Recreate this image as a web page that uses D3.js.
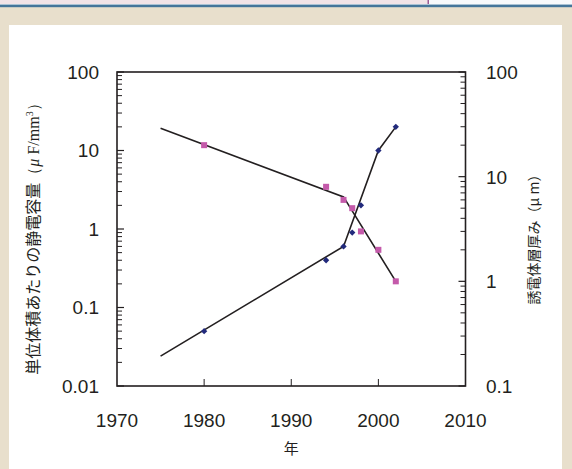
<!DOCTYPE html>
<html>
<head>
<meta charset="utf-8">
<script src="https://cdn.jsdelivr.net/npm/d3@7"></script>
<style>
  html, body { margin: 0; padding: 0; background: #e8dfcc; }
  svg { display: block; }
</style>
</head>
<body>
<svg id="chart" width="572" height="469"></svg>
<script>
// measured points
const capYears = [1980, 1994, 1996, 1997, 1998, 2000, 2002]
const capValues = [0.05, 0.4, 0.6, 0.9, 2, 10, 20]          // μF/mm3, left axis
const thickYears = [1980, 1994, 1996, 1997, 1998, 2000, 2002]
const thickValues = [20, 8, 6, 5, 3, 2, 1]                   // μm, right axis

// trend lines
const capTrendYears = [1975, 1996, 2000, 2002]
const capTrendValues = [0.024, 0.6, 10, 20]
const thickTrendYears = [1975, 1996, 2002]
const thickTrendValues = [29, 6.4, 1]

const xTicks = [1970, 1980, 1990, 2000, 2010]
const yLeftTicks = [0.01, 0.1, 1, 10, 100]
const yRightTicks = [0.1, 1, 10, 100]

const width = 572, height = 469
const plot = {left: 117, right: 465.5, top: 72, bottom: 386}

const svg = d3.select("#chart")

// page frame
svg.append("rect").attr("x", 0).attr("y", 0).attr("width", width).attr("height", height).attr("fill", "#e8dfcc")
svg.append("rect").attr("x", 0).attr("y", 0).attr("width", 428).attr("height", 4.5).attr("fill", "#f1e3e7")
svg.append("rect").attr("x", 428).attr("y", 0).attr("width", width - 428).attr("height", 4.5).attr("fill", "#f7f9fb")
svg.append("rect").attr("x", 427.5).attr("y", 0).attr("width", 1.5).attr("height", 4.5).attr("fill", "#9a5a94")
svg.append("rect").attr("x", 0).attr("y", 4).attr("width", width).attr("height", 1).attr("fill", "#a9c2d4")
svg.append("rect").attr("x", 0).attr("y", 5).attr("width", width).attr("height", 2.2).attr("fill", "#44759a")
svg.append("rect").attr("x", 9).attr("y", 25).attr("width", 553).attr("height", height - 25).attr("fill", "#ffffff")

const xScale = d3.scaleLinear().domain([1970, 2010]).range([plot.left, plot.right])
const yLeft = d3.scaleLog().domain([0.01, 100]).range([plot.bottom, plot.top])
const yRight = d3.scaleLog().domain([0.1, 100]).range([plot.bottom, plot.top])

const numFont = "'Liberation Sans', Arial, sans-serif"
const jpFont = "'Noto Sans CJK JP', sans-serif"
const ink = "#231f20"

function minorTicks(ticks) {
  const out = []
  ticks.slice(0, -1).forEach(t => { for (let k = 2; k <= 9; k++) out.push(t * k) })
  return out
}

// left axis ticks (pointing inward)
const gl = svg.append("g")
gl.selectAll(".maj").data(yLeftTicks).join("line")
  .attr("x1", plot.left).attr("x2", plot.left + 7)
  .attr("y1", d => yLeft(d)).attr("y2", d => yLeft(d))
  .attr("stroke", ink).attr("stroke-width", 1.2)
gl.selectAll(".min").data(minorTicks(yLeftTicks)).join("line")
  .attr("x1", plot.left).attr("x2", plot.left + 5)
  .attr("y1", d => yLeft(d)).attr("y2", d => yLeft(d))
  .attr("stroke", ink).attr("stroke-width", 1)
gl.selectAll("text").data(yLeftTicks).join("text")
  .attr("x", 99).attr("y", d => yLeft(d))
  .attr("dy", "0.36em").attr("text-anchor", "end")
  .attr("font-family", numFont).attr("font-size", 19).attr("fill", ink)
  .text(d => d3.format("~g")(d))

// right axis ticks
const gr = svg.append("g")
gr.selectAll(".maj").data(yRightTicks).join("line")
  .attr("x1", plot.right).attr("x2", plot.right - 7)
  .attr("y1", d => yRight(d)).attr("y2", d => yRight(d))
  .attr("stroke", ink).attr("stroke-width", 1.2)
gr.selectAll(".min").data(minorTicks(yRightTicks)).join("line")
  .attr("x1", plot.right).attr("x2", plot.right - 5)
  .attr("y1", d => yRight(d)).attr("y2", d => yRight(d))
  .attr("stroke", ink).attr("stroke-width", 1)
gr.selectAll("text").data(yRightTicks).join("text")
  .attr("x", 486).attr("y", d => yRight(d))
  .attr("dy", "0.36em").attr("text-anchor", "start")
  .attr("font-family", numFont).attr("font-size", 19).attr("fill", ink)
  .text(d => d3.format("~g")(d))

// bottom axis
const gb = svg.append("g")
gb.selectAll("line").data(xTicks.slice(1, -1)).join("line")
  .attr("x1", d => xScale(d)).attr("x2", d => xScale(d))
  .attr("y1", plot.bottom).attr("y2", plot.bottom - 7)
  .attr("stroke", ink).attr("stroke-width", 1)
gb.selectAll("text").data(xTicks).join("text")
  .attr("x", d => xScale(d)).attr("y", 427)
  .attr("text-anchor", "middle")
  .attr("font-family", numFont).attr("font-size", 19).attr("fill", ink)
  .text(d => d)

// frame
svg.append("rect")
  .attr("x", plot.left).attr("y", plot.top)
  .attr("width", plot.right - plot.left).attr("height", plot.bottom - plot.top)
  .attr("fill", "none").attr("stroke", ink).attr("stroke-width", 1.6)

// trend lines
const capLine = d3.line().x(d => xScale(d[0])).y(d => yLeft(d[1]))
const thickLine = d3.line().x(d => xScale(d[0])).y(d => yRight(d[1]))
svg.append("path").datum(d3.zip(thickTrendYears, thickTrendValues))
  .attr("d", thickLine).attr("fill", "none").attr("stroke", ink).attr("stroke-width", 1.6)
svg.append("path").datum(d3.zip(capTrendYears, capTrendValues))
  .attr("d", capLine).attr("fill", "none").attr("stroke", ink).attr("stroke-width", 1.6)

// markers
svg.append("g").selectAll("rect").data(d3.zip(thickYears, thickValues)).join("rect")
  .attr("x", d => xScale(d[0]) - 3).attr("y", d => yRight(d[1]) - 3)
  .attr("width", 6).attr("height", 6)
  .attr("fill", "#c45aaa")
svg.append("g").selectAll("path").data(d3.zip(capYears, capValues)).join("path")
  .attr("d", d3.symbol(d3.symbolSquare, 20))
  .attr("transform", d => `translate(${xScale(d[0])},${yLeft(d[1])}) rotate(45)`)
  .attr("fill", "#222a7c")

// axis titles
svg.append("text")
  .attr("x", (plot.left + plot.right) / 2).attr("y", 454)
  .attr("text-anchor", "middle")
  .attr("font-family", jpFont).attr("font-size", 15).attr("fill", ink)
  .text("年")

const lt = svg.append("text")
  .attr("transform", "translate(39,235) rotate(-90)")
  .attr("text-anchor", "middle")
  .attr("font-family", jpFont).attr("font-size", 16).attr("fill", ink)
lt.append("tspan").text("単位体積あたりの静電容量")
lt.append("tspan").attr("font-family", "'Liberation Serif', serif").text("（")
lt.append("tspan").attr("font-family", "'Liberation Serif', serif").attr("font-style", "italic").text("μ")
lt.append("tspan").attr("font-family", "'Liberation Serif', serif").text(" F/mm")
lt.append("tspan").attr("font-family", "'Liberation Serif', serif").attr("font-size", 10).attr("dy", -6).text("3")
lt.append("tspan").attr("font-family", "'Liberation Serif', serif").attr("dy", 6).text("）")

svg.append("text")
  .attr("transform", "translate(539,236) rotate(-90)")
  .attr("text-anchor", "middle")
  .attr("font-family", jpFont).attr("font-size", 14).attr("fill", ink)
  .text("誘電体層厚み（μ m）")
</script>
</body>
</html>
